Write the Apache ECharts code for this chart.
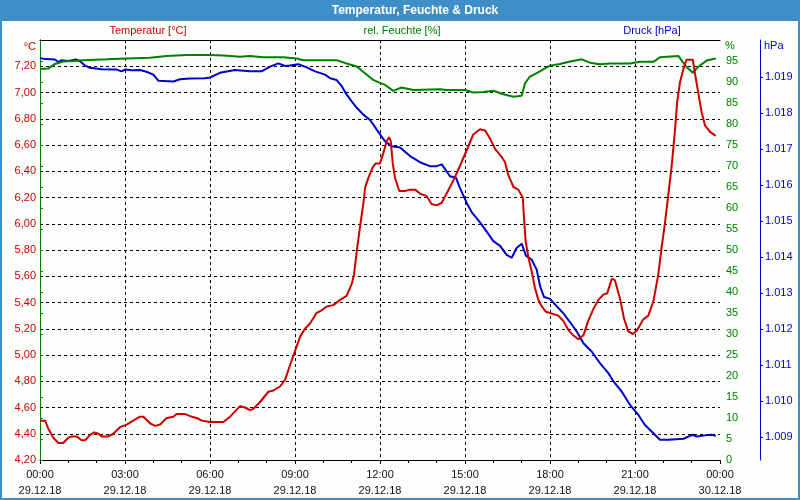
<!DOCTYPE html>
<html>
<head>
<meta charset="utf-8">
<script src="https://cdn.jsdelivr.net/npm/echarts@6/dist/echarts.min.js"></script>
<style>html,body{margin:0;padding:0;background:#fff}#c{width:800px;height:500px}</style>
</head>
<body>
<div id="c"></div>
<script>
// ---- data (hours since 29.12.18 00:00) ----
const tempT = [0,0.18,0.29,0.47,0.65,0.82,1.0,1.12,1.29,1.47,1.59,1.76,1.91,2.06,2.18,2.41,2.59,2.82,3.06,3.29,3.53,3.65,3.88,4.06,4.24,4.47,4.71,4.82,5.12,5.35,5.53,5.71,
  6.0,6.47,6.71,7.06,7.24,7.41,7.53,7.76,8.06,8.24,8.47,8.65,8.82,9.0,9.18,9.35,9.53,9.76,9.94,10.12,10.35,10.59,10.82,11.0,11.08,11.18,11.29,11.41,11.48,11.59,11.74,11.85,
  12.0,12.12,12.24,12.32,12.38,12.45,12.53,12.68,12.88,13.06,13.24,13.41,13.65,13.82,14.0,14.18,14.35,14.59,14.82,15.06,15.29,15.53,15.71,15.88,16.06,16.29,16.41,16.53,16.71,16.88,17.04,17.08,17.14,17.24,17.35,17.47,17.59,17.71,17.85,
  18.0,18.29,18.47,18.65,18.82,19.0,19.18,19.35,19.53,19.71,19.88,20.02,20.18,20.29,20.47,20.61,20.76,20.94,21.08,21.29,21.47,21.65,21.82,21.94,22.06,22.18,22.29,22.41,22.49,22.59,22.71,22.82,23.04,23.12,23.24,23.35,23.47,23.65,23.85];
const tempV = [4.50,4.50,4.44,4.37,4.33,4.33,4.37,4.38,4.38,4.35,4.35,4.39,4.41,4.40,4.38,4.38,4.40,4.45,4.47,4.50,4.53,4.53,4.48,4.46,4.47,4.52,4.53,4.55,4.55,4.53,4.52,4.50,
  4.49,4.49,4.53,4.61,4.60,4.58,4.59,4.64,4.72,4.73,4.76,4.81,4.92,5.03,5.14,5.20,5.24,5.32,5.34,5.37,5.38,5.42,5.45,5.54,5.61,5.79,5.97,6.15,6.28,6.35,6.43,6.46,
  6.46,6.54,6.63,6.66,6.63,6.46,6.35,6.25,6.25,6.26,6.26,6.23,6.21,6.15,6.14,6.16,6.23,6.33,6.44,6.56,6.68,6.72,6.71,6.65,6.57,6.51,6.47,6.37,6.28,6.26,6.20,6.05,5.87,5.74,5.64,5.51,5.42,5.37,5.33,
  5.32,5.30,5.26,5.19,5.15,5.12,5.15,5.26,5.35,5.42,5.46,5.47,5.58,5.57,5.43,5.28,5.18,5.16,5.19,5.27,5.30,5.41,5.61,5.82,6.01,6.23,6.43,6.71,6.93,7.08,7.18,7.25,7.25,7.14,6.99,6.85,6.75,6.70,6.67];

const humT = [0,0.29,0.53,0.82,1.18,1.53,2.35,3.06,3.88,4.47,5.18,
  6.0,6.47,7.06,7.41,7.88,8.59,9.06,9.29,10.47,10.82,11.18,11.47,11.76,
  12.0,12.18,12.47,12.76,13.18,14.12,14.35,15.0,15.29,15.65,16.0,16.35,16.71,17.0,17.12,17.29,17.53,17.76,
  18.0,18.35,18.71,19.12,19.41,19.76,20.12,20.82,21.18,21.65,21.88,22.53,22.8,23.04,23.24,23.53,23.85];
const humV = [93.1,93.2,94.3,94.9,95.0,95.2,95.4,95.6,95.8,96.2,96.4,
  96.4,96.3,96.0,96.2,95.9,95.9,95.6,95.2,95.2,94.4,93.7,92.1,90.5,
  89.8,89.3,87.9,88.7,88.1,88.3,88.1,88.1,87.5,87.6,87.9,87.1,86.5,86.7,89.7,91.3,92.1,93.0,
  93.9,94.3,94.9,95.4,94.6,94.2,94.4,94.4,94.8,94.8,95.9,96.2,93.7,92.2,93.7,95.1,95.6];

const presT = [0,0.18,0.53,0.65,0.76,1.0,1.27,1.41,1.59,1.76,2.18,2.71,2.88,3.0,3.24,3.53,3.76,4.0,4.18,4.71,4.94,5.29,5.82,
  6.0,6.35,6.88,7.41,7.82,8.12,8.41,8.65,8.82,9.12,9.41,9.71,10.06,10.24,10.47,10.65,10.82,11.0,11.18,11.41,11.65,11.82,
  12.0,12.18,12.41,12.71,13.06,13.41,13.76,14.0,14.18,14.47,14.68,14.82,15.06,15.24,15.53,15.76,16.0,16.24,16.47,16.65,16.82,17.0,17.15,17.35,17.53,17.65,17.79,
  18.0,18.24,18.47,18.71,18.94,19.18,19.47,19.76,20.06,20.24,20.53,20.82,21.12,21.35,21.65,21.88,22.18,22.71,22.88,23.04,23.18,23.53,23.71,23.85];
const presV = [1019.52,1019.49,1019.48,1019.41,1019.46,1019.44,1019.48,1019.43,1019.31,1019.25,1019.21,1019.20,1019.15,1019.20,1019.18,1019.19,1019.14,1019.06,1018.89,1018.87,1018.93,1018.95,1018.96,
  1018.98,1019.11,1019.19,1019.15,1019.15,1019.28,1019.37,1019.30,1019.31,1019.35,1019.26,1019.15,1019.06,1018.96,1018.91,1018.74,1018.51,1018.32,1018.14,1017.95,1017.80,1017.61,
  1017.40,1017.21,1017.07,1017.04,1016.80,1016.63,1016.52,1016.52,1016.57,1016.24,1016.20,1015.92,1015.50,1015.24,1014.96,1014.71,1014.44,1014.31,1014.06,1013.98,1014.25,1014.37,1014.04,1013.93,1013.65,1013.19,1012.89,
  1012.84,1012.63,1012.44,1012.19,1011.94,1011.61,1011.38,1011.06,1010.78,1010.55,1010.27,1009.90,1009.62,1009.34,1009.11,1008.93,1008.93,1008.96,1009.02,1009.07,1009.02,1009.06,1009.07,1009.04];

// ---- tick labels ----
const xTimeLabels = ['00:00','03:00','06:00','09:00','12:00','15:00','18:00','21:00','00:00'];
const xDateLabels = ['29.12.18','29.12.18','29.12.18','29.12.18','29.12.18','29.12.18','29.12.18','29.12.18','30.12.18'];
const pctTicks = [0,5,10,15,20,25,30,35,40,45,50,55,60,65,70,75,80,85,90,95];
const hpaTicks = [1009,1010,1011,1012,1013,1014,1015,1016,1017,1018,1019];

const RED = '#cc0000', GREEN = '#008000', BLUE = '#0000cc', FRAME = '#3e8fc8';
const FONT = '"Liberation Sans", Arial, sans-serif';
const zip = (a, b) => a.map((t, i) => [t, b[i]]);

const chart = echarts.init(document.getElementById('c'), null, {renderer: 'canvas'});
chart.setOption({
  backgroundColor: '#fcfefc',
  animation: false,
  textStyle: {fontFamily: FONT},
  grid: {left: 40, right: 80, top: 40, bottom: 40, containLabel: false},
  xAxis: [{
    type: 'value', min: 0, max: 24, interval: 3,
    axisLine: {show: true, lineStyle: {color: '#000', width: 1}},
    axisTick: {show: true, length: 4, lineStyle: {color: '#000'}},
    minorTick: {show: true, splitNumber: 3, length: 3, lineStyle: {color: '#000'}},
    axisLabel: {
      margin: 7, color: '#111', fontSize: 11, lineHeight: 16, fontFamily: FONT,
      formatter: v => { const i = Math.round(v / 3); return xTimeLabels[i] + '\n' + xDateLabels[i]; }
    },
    splitLine: {show: true, showMinLine: false, showMaxLine: false, lineStyle: {color: '#000', type: [3, 3], width: 1}}
  }, {
    type: 'value', min: 0, max: 24, position: 'top',
    axisLine: {show: true, lineStyle: {color: '#000', width: 1}},
    axisTick: {show: false}, axisLabel: {show: false}, splitLine: {show: false}
  }],
  yAxis: [{
    type: 'value', min: 4.2, max: 7.4, interval: 0.2, position: 'left',
    axisLine: {show: true, lineStyle: {color: '#000', width: 1}},
    axisTick: {show: false},
    axisLabel: {color: RED, fontSize: 11, margin: 4, fontFamily: FONT, showMaxLabel: false,
      formatter: v => v.toFixed(2).replace('.', ',')},
    splitLine: {show: true, showMinLine: false, showMaxLine: false, lineStyle: {color: '#000', type: [3, 3], width: 1}}
  }, {
    type: 'value', min: 0, max: 100, position: 'right',
    axisLine: {show: true, lineStyle: {color: GREEN, width: 1}},
    axisTick: {show: true, length: 3, customValues: pctTicks, lineStyle: {color: GREEN}},
    axisLabel: {color: GREEN, fontSize: 11, margin: 6, fontFamily: FONT, customValues: pctTicks},
    splitLine: {show: false}
  }, {
    type: 'value', min: 1008.37, max: 1020.02, position: 'right', offset: 40,
    axisLine: {show: true, lineStyle: {color: BLUE, width: 1}},
    axisTick: {show: true, length: 3, customValues: hpaTicks, lineStyle: {color: BLUE}},
    axisLabel: {color: BLUE, fontSize: 11, margin: 5, fontFamily: FONT, customValues: hpaTicks,
      formatter: v => (v / 1000).toFixed(3)},
    splitLine: {show: false}
  }],
  series: [
    {name: 'Druck', type: 'line', yAxisIndex: 2, data: zip(presT, presV), showSymbol: false, symbol: 'none',
      lineStyle: {color: BLUE, width: 2}, itemStyle: {color: BLUE}, z: 3},
    {name: 'Feuchte', type: 'line', yAxisIndex: 1, data: zip(humT, humV), showSymbol: false, symbol: 'none',
      lineStyle: {color: GREEN, width: 2}, itemStyle: {color: GREEN}, z: 4},
    {name: 'Temperatur', type: 'line', yAxisIndex: 0, data: zip(tempT, tempV), showSymbol: false, symbol: 'none',
      lineStyle: {color: RED, width: 2}, itemStyle: {color: RED}, z: 5}
  ],
  graphic: [
    {type: 'rect', shape: {x: 0, y: 0, width: 800, height: 21}, style: {fill: FRAME}, silent: true, z: 10},
    {type: 'rect', shape: {x: 1, y: 1, width: 798, height: 498}, style: {fill: null, stroke: FRAME, lineWidth: 2}, silent: true, z: 10},
    {type: 'text', x: 415, y: 11, z: 11, style: {text: 'Temperatur, Feuchte & Druck', fill: '#fff', font: 'bold 12px ' + FONT, align: 'center', verticalAlign: 'middle'}},
    {type: 'text', x: 148, y: 31, z: 11, style: {text: 'Temperatur [°C]', fill: RED, font: '11px ' + FONT, align: 'center', verticalAlign: 'middle'}},
    {type: 'text', x: 402, y: 31, z: 11, style: {text: 'rel. Feuchte [%]', fill: GREEN, font: '11px ' + FONT, align: 'center', verticalAlign: 'middle'}},
    {type: 'text', x: 652, y: 31, z: 11, style: {text: 'Druck [hPa]', fill: BLUE, font: '11px ' + FONT, align: 'center', verticalAlign: 'middle'}},
    {type: 'text', x: 36, y: 47, z: 11, style: {text: '°C', fill: RED, font: '11px ' + FONT, align: 'right', verticalAlign: 'middle'}},
    {type: 'text', x: 725, y: 46, z: 11, style: {text: '%', fill: GREEN, font: '11px ' + FONT, align: 'left', verticalAlign: 'middle'}},
    {type: 'text', x: 764, y: 46, z: 11, style: {text: 'hPa', fill: BLUE, font: '11px ' + FONT, align: 'left', verticalAlign: 'middle'}}
  ]
});
</script>
</body>
</html>
